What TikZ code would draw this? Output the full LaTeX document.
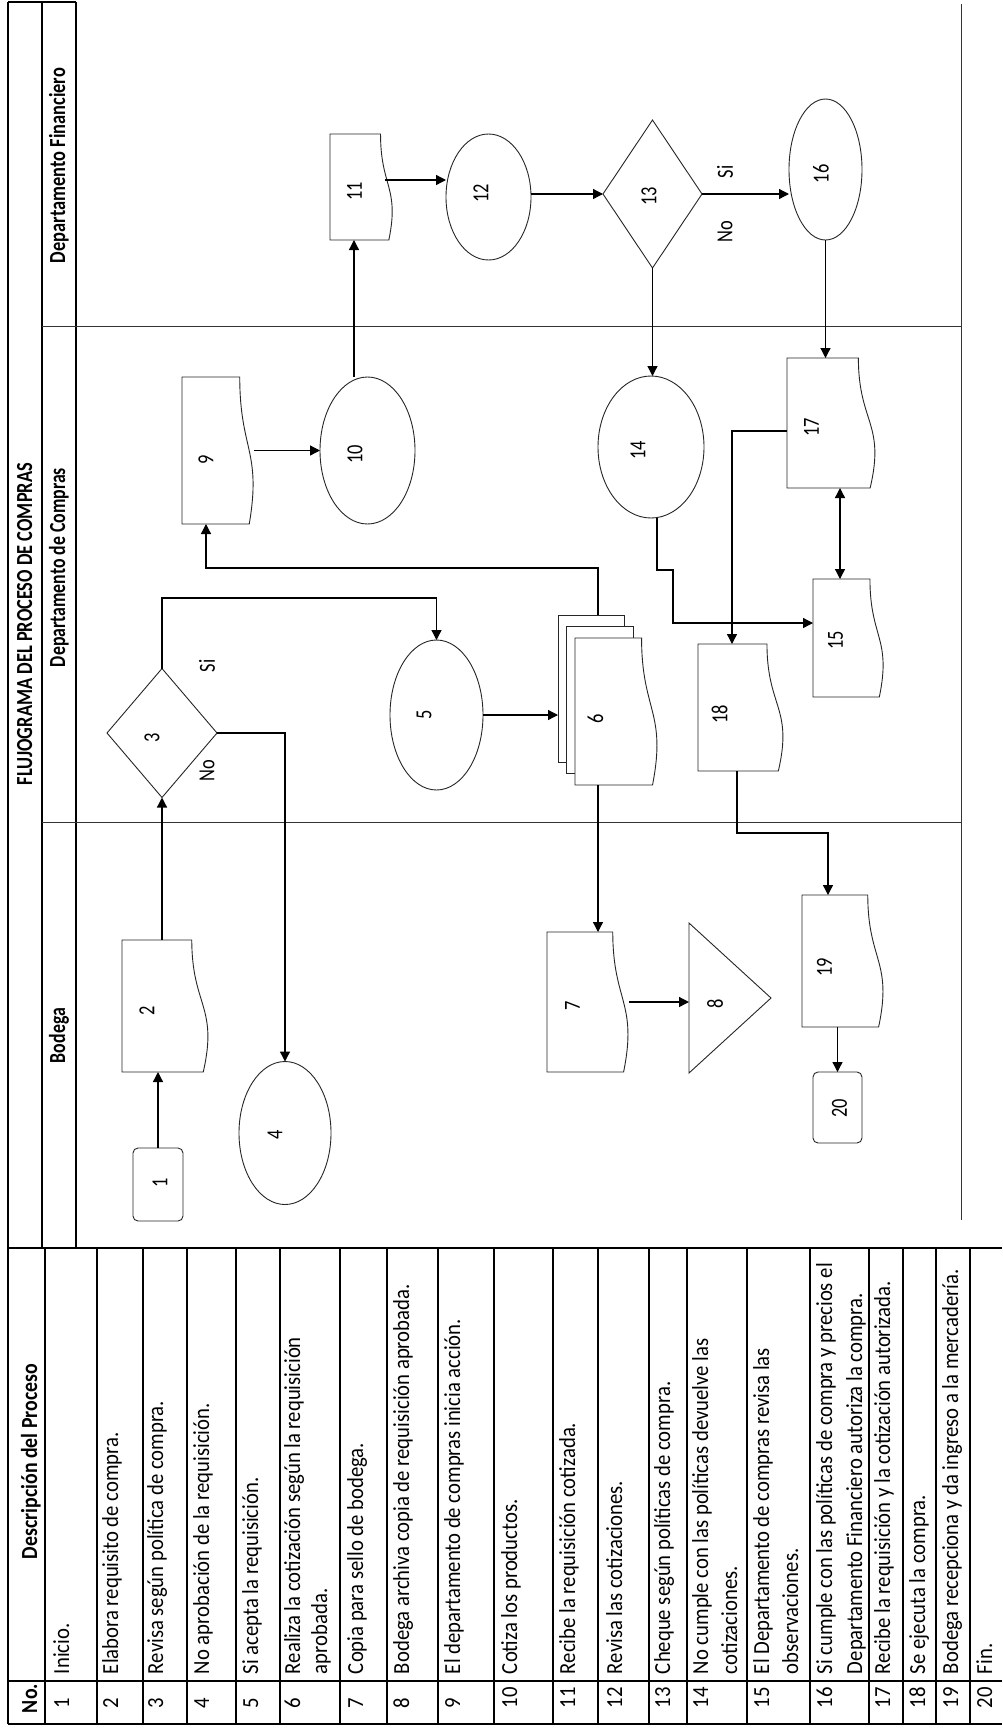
\documentclass[tikz,border=0pt]{standalone}
\usepackage{fontspec}
\setmainfont{Carlito}
\usepackage{graphicx}
\usetikzlibrary{arrows.meta,shapes.geometric,calc}

\newcommand\fsz{\fontsize{23}{26}\selectfont}
\tikzset{
  shp/.style={draw=black!85, line width=0.9pt},
  hit/.style={draw=none, inner sep=0pt, outer sep=0pt, rectangle},
  ell/.style={ellipse, draw=black!85, line width=0.9pt, inner sep=0pt, outer sep=0pt},
  term/.style={rectangle, rounded corners=5pt, draw=black!85, line width=0.9pt, inner sep=0pt, outer sep=0pt},
  arr/.style={line width=1.3pt, -{Triangle[length=10pt,width=10pt]}},
  arrb/.style={line width=1.3pt, {Triangle[length=10pt,width=10pt]}-{Triangle[length=10pt,width=10pt]}},
  lbl/.style={inner sep=0pt, font=\fsz},
  txt/.style={inner sep=0pt, outer sep=0pt, rotate=90, anchor=base west, font=\fsz},
  grid/.style={line width=1.3pt, black},
  lane/.style={line width=1pt, black!80},
}
% document shape: name, left, top, full width, height
\newcommand\docshape[5]{%
  \node[hit, minimum width=#4pt, minimum height=#5pt] (#1) at ({#2+#4/2},{#3+#5/2}) {};
  \draw[shp, fill=white] (#2,#3) -- ({#2+0.802*#4},#3)
    .. controls ({#2+0.802*#4},{#3+0.5*#5}) and ({#2+1.1075*#4},{#3+0.5*#5}) ..
    ({#2+0.934*#4},{#3+#5}) -- (#2,{#3+#5}) -- cycle;}
\newcommand\lab[3]{\node[lbl] (#1) at (#2) {\rotatebox{90}{\scalebox{0.8}[1]{#3}}};}
\newcommand\rowtxt[3]{\node[txt] (#1) at (#2,1674) {\scalebox{0.9}[1]{#3}};}
\newcommand\rownum[3]{\node[txt] (#1) at (#2,1708) {\scalebox{0.9}[1]{#3}};}

\begin{document}
\begin{tikzpicture}[x=1pt,y=-1pt]
\fill[white] (0,0) rectangle (1002,1732);
\useasboundingbox (0,0) rectangle (1002,1732);

% ---- frame and lanes ----
\draw[grid] (8,2) -- (76,2);
\draw[grid] (8,2) -- (8,1724);
\draw[grid] (42,2) -- (42,1248);
\draw[grid] (76,2) -- (76,1248);
\draw[lane] (42,326) -- (961,326);
\draw[lane] (42,822) -- (961,822);
\draw[lane] (961,4) -- (961,1220);

\node[txt] (title) at (32,785) {\resizebox{322pt}{\height}{\bfseries FLUJOGRAMA DEL PROCESO DE COMPRAS}};
\node[txt] (hfin) at (65,263) {\resizebox{195pt}{\height}{\bfseries Departamento Financiero}};
\node[txt] (hcom) at (65,667) {\resizebox{199pt}{\height}{\bfseries Departamento de Compras}};
\node[txt] (hbod) at (65,1063) {\resizebox{55pt}{\height}{\bfseries Bodega}};

% ---- shapes ----
\node[term, minimum width=50pt, minimum height=73pt] (n1) at (158,1184.5) {};
\docshape{n2}{122}{940}{87}{132}
\node[hit, minimum width=110pt, minimum height=129pt] (n3) at (162,733) {};
\draw[shp] (n3.north) -- (n3.east) -- (n3.south) -- (n3.west) -- cycle;
\node[ell, minimum width=92pt, minimum height=143pt] (n4) at (285,1133) {};
\node[ell, minimum width=93pt, minimum height=150pt] (n5) at (436.5,715) {};
% multi-document 6
\node[hit, minimum width=100pt, minimum height=170pt] (n6) at (608,700) {};
\draw[shp, fill=white] (558,615) rectangle (624,762);
\draw[shp, fill=white] (566.5,626.5) rectangle (633,773);
\docshape{n6f}{575}{638}{83}{147}
\docshape{n7}{547}{932}{82}{140}
\node[hit, minimum width=82pt, minimum height=150pt] (n8) at (730,998) {};
\draw[shp] (n8.north west) -- (n8.east) -- (n8.south west) -- cycle;
\docshape{n9}{182}{377}{72}{147}
\node[ell, minimum width=95pt, minimum height=147pt] (n10) at (367.5,450.5) {};
\docshape{n11}{330}{134}{63}{106}
\node[ell, minimum width=85pt, minimum height=126pt] (n12) at (488.5,197) {};
\node[hit, minimum width=99pt, minimum height=148pt] (n13) at (652.5,194) {};
\draw[shp] (n13.north) -- (n13.east) -- (n13.south) -- (n13.west) -- cycle;
\node[ell, minimum width=106pt, minimum height=142pt] (n14) at (651,447) {};
\docshape{n15}{813}{579}{71}{118}
\node[ell, minimum width=73pt, minimum height=141pt] (n16) at (825.5,169.5) {};
\docshape{n17}{787}{358}{89}{130}
\docshape{n18}{698}{644}{86}{127}
\docshape{n19}{802}{895}{82}{132}
\node[term, minimum width=49pt, minimum height=71pt] (n20) at (837.5,1107.5) {};

% ---- labels ----
\lab{l1}{160,1183}{1}
\lab{l2}{147,1011}{2}
\lab{l3}{152,738}{3}
\lab{l4}{275,1135}{4}
\lab{l5}{424,715}{5}
\lab{l6}{595.5,719}{6}
\lab{l7}{572.5,1006}{7}
\lab{l8}{715,1004}{8}
\lab{l9}{206,460}{9}
\lab{l10}{355,454}{10}
\lab{l11}{354.5,191}{11}
\lab{l12}{481,193}{12}
\lab{l13}{649,196}{13}
\lab{l14}{638,450}{14}
\lab{l15}{835.5,640}{15}
\lab{l16}{821,174}{16}
\lab{l17}{811.5,427}{17}
\lab{l18}{719.5,714}{18}
\lab{l19}{824.5,967}{19}
\lab{l20}{839.5,1108}{20}
\lab{si3}{207,666}{Si}
\lab{no3}{207,771}{No}
\lab{si13}{725,172}{Si}
\lab{no13}{725,232}{No}

% ---- connectors ----
\draw[arr] (n1.north) -- (n1.north |- n2.south);
\draw[arr] (n3.south |- n2.north) -- (n3.south);
\coordinate (c35) at (436.5,598);
\draw[arr] (n3.north) |- (c35) -- (n5.north);
\draw[arr] (n3.east) -| (n4.north);
\draw[arr] (n5.east) -- (n5.east -| n6.west);
\coordinate (c6t) at ($(n6.north west)+(40,0)$);
\coordinate (c6b) at ($(n6.south west)+(40,0)$);
\coordinate (c69) at (206,568);
\draw[arr] (c6t) |- (c69) -- (c69 |- n9.south);
\draw[arr] (c6b) -- (c6b |- n7.north);
\draw[arr] (n7.east) -- (n7.east -| n8.west);
\draw[arr] (n9.east) -- (n9.east -| n10.west);
\coordinate (c1011) at (354,300);
\draw[arr] (c1011 |- n10.north) -- (c1011 |- n11.south);
\coordinate (c1112) at (385,180);
\draw[arr] (c1112) -- (c1112 -| n12.west);
\draw[arr] (n13.west -| n12.east) -- (n13.west);
\draw[arr] (n13.east) -- (n13.east -| n16.west);
\draw[arr] (n13.south) -- (n13.south |- n14.north);
\draw[arr] (n16.south) -- (n16.south |- n17.north);
\coordinate (c1715) at (840,530);
\draw[arrb] (c1715 |- n17.south) -- (c1715 |- n15.north);
\coordinate (c1718) at (732,431);
\draw[arr] (c1718 -| n17.west) -- (c1718) -- (c1718 |- n18.north);
\coordinate (c1415a) at (657,570);
\coordinate (c1415b) at (673,623);
\draw[arr] (c1415a |- n14.south) -- (c1415a) -| (c1415b) -- (c1415b -| n15.west);
\coordinate (c1819a) at (737,833);
\coordinate (c1819b) at (828,833);
\draw[arr] (c1819a |- n18.south) -- (c1819a) -- (c1819b) -- (c1819b |- n19.north);
\draw[arr] (n20.north |- n19.south) -- (n20.north);

% ---- table ----
\draw[grid] (8,1248) -- (1002,1248);
\draw[grid] (8,1681) -- (1002,1681);
\draw[grid] (8,1724) -- (1002,1724);
\foreach \x in {45,97,143,187,236,280,340,387,438,494,553,598,649,687,747,810,869,903,936,970}
  \draw[grid] (\x,1248) -- (\x,1724);

\node[txt] (hdesc) at (37,1559) {\resizebox{195pt}{\height}{\bfseries Descripción del Proceso}};
\node[txt] (hno) at (37,1713) {\resizebox{29pt}{\height}{\bfseries No.}};

\rowtxt{r1}{69}{Inicio.}
\rowtxt{r2}{118}{Elabora requisito de compra.}
\rowtxt{r3}{163}{Revisa según política de compra.}
\rowtxt{r4}{209}{No aprobación de la requisición.}
\rowtxt{r5}{258}{Si acepta la requisición.}
\rowtxt{r6}{300}{Realiza la cotización según la requisición}
\rowtxt{r6b}{327}{aprobada.}
\rowtxt{r7}{363}{Copia para sello de bodega.}
\rowtxt{r8}{409}{Bodega archiva copia de requisición aprobada.}
\rowtxt{r9}{460}{El departamento de compras inicia acción.}
\rowtxt{r10}{517}{Cotiza los productos.}
\rowtxt{r11}{575}{Recibe la requisición cotizada.}
\rowtxt{r12}{622}{Revisa las cotizaciones.}
\rowtxt{r13}{670}{Cheque según políticas de compra.}
\rowtxt{r14}{708}{No cumple con las políticas devuelve las}
\rowtxt{r14b}{737}{cotizaciones.}
\rowtxt{r15}{769}{El Departamento de compras revisa las}
\rowtxt{r15b}{798}{observaciones.}
\rowtxt{r16}{832}{Si cumple con las políticas de compra y precios el}
\rowtxt{r16b}{862}{Departamento Financiero autoriza la compra.}
\rowtxt{r17}{890}{Recibe la requisición y la cotización autorizada.}
\rowtxt{r18}{925}{Se ejecuta la compra.}
\rowtxt{r19}{958}{Bodega recepciona y da ingreso a la mercadería.}
\rowtxt{r20}{992}{Fin.}

\rownum{k1}{69}{1}
\rownum{k2}{118}{2}
\rownum{k3}{163}{3}
\rownum{k4}{209}{4}
\rownum{k5}{258}{5}
\rownum{k6}{300}{6}
\rownum{k7}{363}{7}
\rownum{k8}{409}{8}
\rownum{k9}{460}{9}
\rownum{k10}{517}{10}
\rownum{k11}{575}{11}
\rownum{k12}{622}{12}
\rownum{k13}{670}{13}
\rownum{k14}{708}{14}
\rownum{k15}{769}{15}
\rownum{k16}{832}{16}
\rownum{k17}{890}{17}
\rownum{k18}{925}{18}
\rownum{k19}{958}{19}
\rownum{k20}{992}{20}
\end{tikzpicture}
\end{document}
